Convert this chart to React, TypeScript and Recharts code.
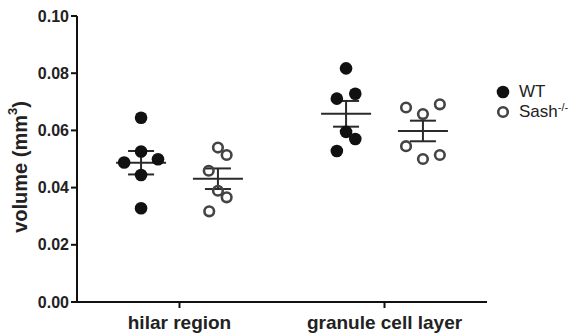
import React from "react";
import { ScatterChart, Scatter, XAxis, YAxis, ErrorBar, Legend } from "recharts";

const categories = ["hilar region", "granule cell layer"];
const yTicks = [0, 0.02, 0.04, 0.06, 0.08, 0.1];

// individual animals (volume, mm^3) and their horizontal jitter (x units)
const wtHilar = [0.0644, 0.0526, 0.0488, 0.0499, 0.0444, 0.0328];
const wtHilarJitter = [0, 0, -0.165, 0.165, 0, 0];
const sashHilar = [0.054, 0.0514, 0.0459, 0.0389, 0.0366, 0.0317];
const sashHilarJitter = [0, 0.085, -0.09, 0, 0.085, -0.085];
const wtGcl = [0.0817, 0.0711, 0.0728, 0.0595, 0.057, 0.0528];
const wtGclJitter = [0, -0.09, 0.09, 0, 0.09, -0.09];
const sashGcl = [0.068, 0.0657, 0.0691, 0.0545, 0.05, 0.0514];
const sashGclJitter = [-0.165, 0, 0.165, -0.165, 0, 0.165];

// group mean and SEM per category
const wtMean = [0.0487, 0.0658];
const wtSem = [0.0041, 0.0045];
const sashMean = [0.0431, 0.0598];
const sashSem = [0.0036, 0.0036];

const catPos = [1, 3];
const groupOffset = { wt: -0.375, sash: 0.375 };

const pts = (vals: number[], jit: number[], cat: number, off: number) =>
  vals.map((v, i) => ({ x: catPos[cat] + off + jit[i], y: v }));

const wtData = [
  ...pts(wtHilar, wtHilarJitter, 0, groupOffset.wt),
  ...pts(wtGcl, wtGclJitter, 1, groupOffset.wt),
];
const sashData = [
  ...pts(sashHilar, sashHilarJitter, 0, groupOffset.sash),
  ...pts(sashGcl, sashGclJitter, 1, groupOffset.sash),
];
const wtSummary = wtMean.map((m, i) => ({ x: catPos[i] + groupOffset.wt, y: m, sem: wtSem[i] }));
const sashSummary = sashMean.map((m, i) => ({ x: catPos[i] + groupOffset.sash, y: m, sem: sashSem[i] }));

const FONT = "'Liberation Sans', Arial, Helvetica, sans-serif";
const LINE = "#2a2a2a";

const FilledDot = (p: any) => <circle cx={p.cx} cy={p.cy} r={6.3} fill="#111" />;
const OpenDot = (p: any) => (
  <circle cx={p.cx} cy={p.cy} r={4.8} fill="none" stroke="#444" strokeWidth={2.6} />
);
const MeanLine = (p: any) => (
  <line x1={p.cx - 25} x2={p.cx + 25} y1={p.cy} y2={p.cy} stroke={LINE} strokeWidth={2} />
);

const YLabel = (props: any) => {
  const vb = props.viewBox || {};
  const cx = 20;
  const cy = vb.y + vb.height / 2 + 8;
  return (
    <text
      x={cx}
      y={cy}
      transform={`rotate(-90, ${cx}, ${cy})`}
      textAnchor="middle"
      dominantBaseline="central"
      fontFamily={FONT}
      fontWeight="bold"
      fontSize={20}
      fill="#222"
    >
      volume (mm
      <tspan fontSize={13} dy={-8}>3</tspan>
      <tspan dy={8}>)</tspan>
    </text>
  );
};

const LegendContent = () => (
  <div style={{ fontFamily: FONT, fontSize: 17, color: "#222", lineHeight: "20px" }}>
    <div style={{ display: "flex", alignItems: "center" }}>
      <svg width={22} height={20}>
        <circle cx={9} cy={10} r={6.3} fill="#111" />
      </svg>
      <span style={{ marginLeft: 3 }}>WT</span>
    </div>
    <div style={{ display: "flex", alignItems: "center" }}>
      <svg width={22} height={20}>
        <circle cx={9} cy={10} r={4.8} fill="none" stroke="#444" strokeWidth={2.6} />
      </svg>
      <span style={{ marginLeft: 3 }}>
        Sash<sup style={{ fontSize: 11, verticalAlign: "6px", lineHeight: 0 }}>-/-</sup>
      </span>
    </div>
  </div>
);

export default function App() {
  return (
    <div style={{ position: "absolute", left: 0, top: 0, width: 584, height: 336, background: "#fff" }}>
      <ScatterChart width={584} height={336} margin={{ top: 16, right: 7, bottom: 4, left: 30 }}>
        <XAxis
          type="number"
          dataKey="x"
          domain={[0, 4]}
          ticks={catPos}
          tickFormatter={(v: number) => categories[catPos.indexOf(v)]}
          height={30}
          tickSize={6}
          tickMargin={8}
          stroke="#111"
          strokeWidth={2}
          tick={{ fontFamily: FONT, fontWeight: "bold", fontSize: 19, fill: "#222" }}
          allowDataOverflow
        />
        <YAxis
          type="number"
          dataKey="y"
          domain={[0, 0.1]}
          ticks={yTicks}
          tickFormatter={(v: number) => v.toFixed(2)}
          width={47}
          tickSize={6}
          tickMargin={2}
          stroke="#111"
          strokeWidth={2}
          tick={{ fontFamily: FONT, fontWeight: "bold", fontSize: 16, fill: "#222" }}
          label={<YLabel />}
          interval={0}
        />
        <Legend
          layout="vertical"
          verticalAlign="top"
          align="right"
          content={<LegendContent />}
          wrapperStyle={{ top: 82, left: 494, width: 90 }}
        />
        <Scatter data={wtSummary} shape={<MeanLine />} isAnimationActive={false} legendType="none">
          <ErrorBar dataKey="sem" direction="y" width={13} stroke={LINE} strokeWidth={2} />
        </Scatter>
        <Scatter data={sashSummary} shape={<MeanLine />} isAnimationActive={false} legendType="none">
          <ErrorBar dataKey="sem" direction="y" width={13} stroke={LINE} strokeWidth={2} />
        </Scatter>
        <Scatter data={wtData} shape={<FilledDot />} isAnimationActive={false} name="WT" />
        <Scatter data={sashData} shape={<OpenDot />} isAnimationActive={false} name="Sash" />
      </ScatterChart>
    </div>
  );
}
